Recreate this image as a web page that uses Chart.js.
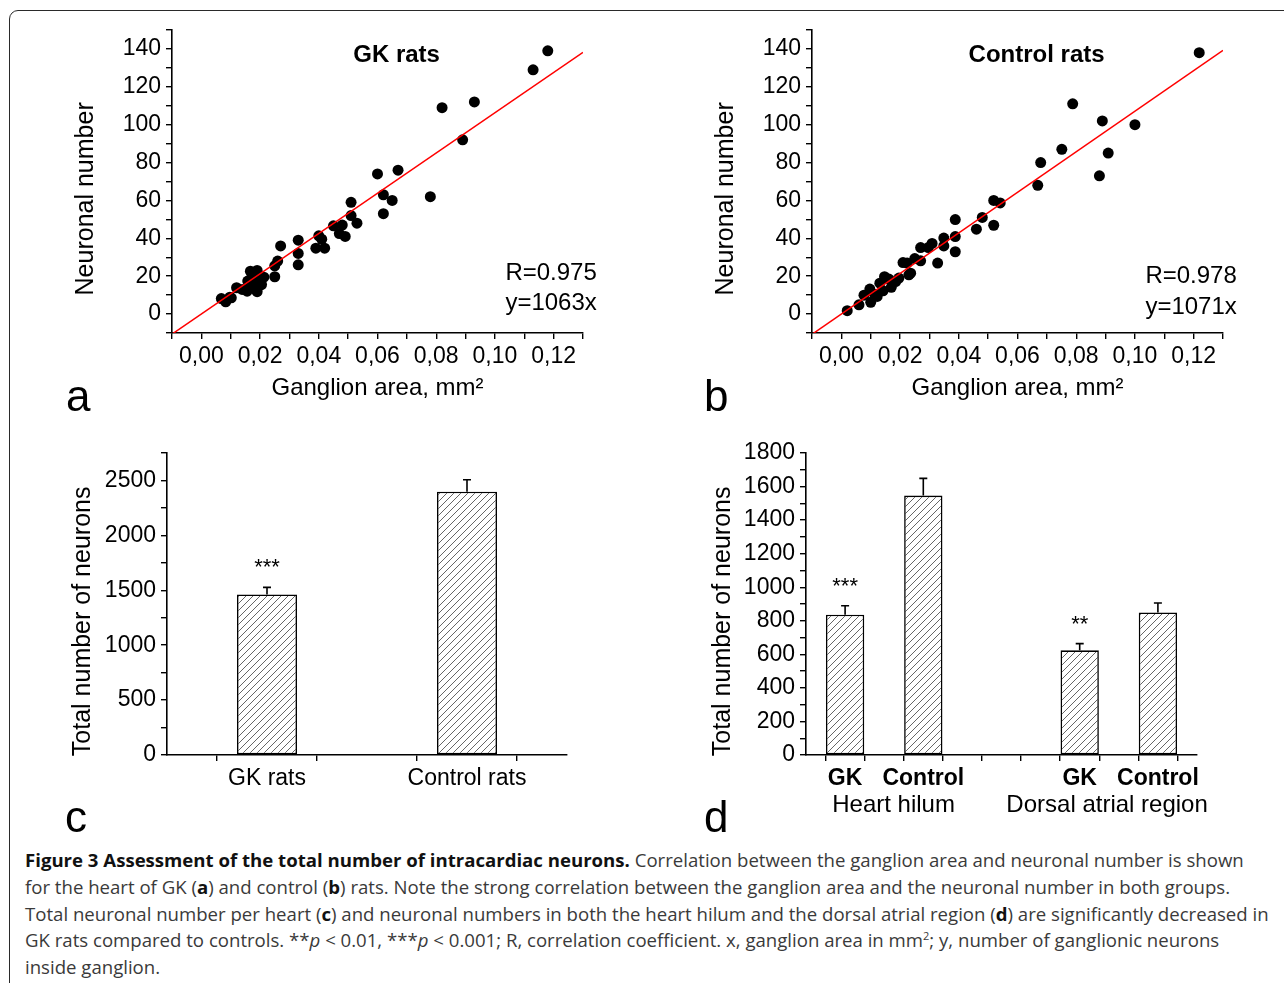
<!DOCTYPE html>
<html>
<head>
<meta charset="utf-8">
<script src="https://cdn.jsdelivr.net/npm/chart.js@4.4.0/dist/chart.umd.min.js"></script>
<style>
body { margin: 0; background: #fff; width: 1284px; height: 983px; overflow: hidden; position: relative; font-family: "Liberation Sans", Arial, sans-serif; }
#frame { position: absolute; left: 9px; top: 10px; width: 1320px; height: 1020px; border: 1.6px solid #2a2a2a; border-radius: 9px; }
canvas { position: absolute; }
.lbl { position: absolute; font-size: 44px; line-height: 1; color: #000; }
#cap { position: absolute; left: 25px; top: 847px; font-family: "Open Sans", sans-serif; font-size: 18.6px; line-height: 26.8px; color: #3a3a3a; white-space: nowrap; }
#cap b { color: #111; font-weight: 700; }
#cap sup { font-size: 11px; line-height: 0; }
</style>
</head>
<body>
<div id="frame"></div>
<canvas id="ca" width="600" height="400" style="left:20px;top:20px"></canvas>
<canvas id="cb" width="600" height="400" style="left:660px;top:20px"></canvas>
<canvas id="cc" width="600" height="410" style="left:20px;top:430px"></canvas>
<canvas id="cd" width="600" height="410" style="left:660px;top:430px"></canvas>
<div class="lbl" style="left:66px;top:374px">a</div>
<div class="lbl" style="left:704px;top:374px">b</div>
<div class="lbl" style="left:65px;top:795px">c</div>
<div class="lbl" style="left:704px;top:795px">d</div>
<div id="cap">
<div><b>Figure 3 Assessment of the total number of intracardiac neurons.</b> Correlation between the ganglion area and neuronal number is shown</div>
<div>for the heart of GK (<b>a</b>) and control (<b>b</b>) rats. Note the strong correlation between the ganglion area and the neuronal number in both groups.</div>
<div>Total neuronal number per heart (<b>c</b>) and neuronal numbers in both the heart hilum and the dorsal atrial region (<b>d</b>) are significantly decreased in</div>
<div>GK rats compared to controls. **<i>p</i> &lt; 0.01, ***<i>p</i> &lt; 0.001; R, correlation coefficient. x, ganglion area in mm<sup>2</sup>; y, number of ganglionic neurons</div>
<div>inside ganglion.</div>
</div>
<script>
// Panel a: GK rats, ganglion area (mm2) vs neuronal number
const gkX = [0.118, 0.113, 0.093, 0.082, 0.089, 0.067, 0.060, 0.078, 0.062, 0.065, 0.062, 0.051, 0.051, 0.053, 0.048, 0.045,
  0.047, 0.049, 0.040, 0.041, 0.039, 0.042, 0.033, 0.033, 0.033, 0.027, 0.026, 0.025, 0.025, 0.0167, 0.019, 0.0158,
  0.0179, 0.0201, 0.0213, 0.0196, 0.0173, 0.0156, 0.019, 0.012, 0.0139, 0.0097, 0.0068, 0.0083, 0.0102, 0.0205, 0.0184];
const gkY = [139, 129, 112, 109, 92, 76, 74, 62, 63, 60, 53, 59, 52, 48, 47, 46.6,
  42.5, 41, 41.3, 39.5, 34.8, 34.8, 39, 32, 26, 36, 28, 25.5, 19.7, 22.6, 23, 17.4,
  19.1, 20, 19.5, 14.7, 13.9, 12.1, 11.8, 13.9, 13, 8.9, 8.2, 6.5, 8.6, 15.6, 16.5];
const gkFit = [[-0.01, -10.6], [0.13, 138.2]];   // y = 1063x

// Panel b: control rats
const ctX = [0.1219, 0.0788, 0.0889, 0.100, 0.0751, 0.0909, 0.0679, 0.0879, 0.0669, 0.0519, 0.0541, 0.048, 0.046, 0.0519, 0.0388,
  0.0388, 0.0388, 0.0349, 0.0349, 0.0309, 0.0296, 0.027, 0.0328, 0.027, 0.025, 0.021, 0.0224, 0.0236, 0.023, 0.0196,
  0.0185, 0.017, 0.0147, 0.0162, 0.0131, 0.0142, 0.0122, 0.010, 0.0097, 0.0077, 0.006, 0.002, 0.0113];
const ctY = [138, 111, 102, 100, 87, 85, 80, 73, 68, 60, 58.7, 51, 44.8, 46.9, 49.9,
  40.9, 32.9, 40.1, 36, 37.3, 35.1, 35.1, 26.9, 28.1, 29.3, 27.2, 26.9, 21.6, 20.7, 19,
  17.2, 14.1, 19.7, 18.5, 16.3, 12.3, 9.3, 6.2, 13.2, 10, 4.9, 1.8, 10.5];
const ctFit = [[-0.01, -10.7], [0.13, 139.2]];   // y = 1071x

// Panel c: total neurons per heart
const totLabels = ['', 'GK rats', '', 'Control rats', ''];
const totMean = [null, 1462, null, 2397, null];
const totErr = [null, 64, null, 109, null];
const totSig = ['', '***', '', '', ''];

// Panel d: by region
const regLabels = ['', 'GK', '', 'Control', '', '', '', 'GK', '', 'Control', ''];
const regMean = [null, 836, null, 1546, null, null, null, 624, null, 850, null];
const regErr = [null, 54, null, 103, null, null, null, 40, null, 56, null];
const regSig = ['', '***', '', '', '', '', '', '**', '', '', ''];
const regGroups = [['Heart hilum', 2.24], ['Dorsal atrial region', 7.7]];

Chart.defaults.font.family = '"Liberation Sans", Arial, sans-serif';
Chart.defaults.color = '#000';
Chart.defaults.animation = false;

// the original axis titles sit a bit below the middle of the axis
const NB = '\u00a0';
const shiftDown = s => s + NB.repeat(5);

// text drawn at data coordinates
const textPlugin = {
  id: 'panelText',
  afterDatasetsDraw(chart, args, opts) {
    const ctx = chart.ctx;
    const sx = chart.scales.x, sy = chart.scales.y;
    ctx.save();
    (opts.items || []).forEach(t => {
      ctx.font = t.font;
      ctx.fillStyle = '#000';
      ctx.textAlign = t.align || 'center';
      ctx.textBaseline = 'middle';
      const px = t.px !== undefined ? t.px : sx.getPixelForValue(t.x);
      const py = t.py !== undefined ? t.py : sy.getPixelForValue(t.y);
      ctx.fillText(t.text, px, py);
    });
    ctx.restore();
  }
};

// one-sided error bars + significance stars
const errPlugin = {
  id: 'errBars',
  afterDatasetsDraw(chart, args, opts) {
    const ctx = chart.ctx;
    const sy = chart.scales.y;
    const meta = chart.getDatasetMeta(0);
    ctx.save();
    ctx.strokeStyle = '#000';
    ctx.lineWidth = 1.6;
    opts.err.forEach((e, i) => {
      if (e === null) return;
      const bx = meta.data[i].x;
      const y0 = sy.getPixelForValue(opts.mean[i]);
      const y1 = sy.getPixelForValue(opts.mean[i] + e);
      ctx.beginPath();
      ctx.moveTo(bx, y0); ctx.lineTo(bx, y1);
      ctx.moveTo(bx - 4, y1); ctx.lineTo(bx + 4, y1);
      ctx.stroke();
      if (opts.sig[i]) {
        ctx.font = '22px "Liberation Sans", Arial, sans-serif';
        ctx.fillStyle = '#000';
        ctx.textAlign = 'center';
        ctx.textBaseline = 'middle';
        ctx.fillText(opts.sig[i], bx, y1 - 19);
      }
    });
    ctx.restore();
  }
};

function hatch(ctx) {
  const c = document.createElement('canvas');
  c.width = 7; c.height = 7;
  const g = c.getContext('2d');
  g.fillStyle = '#fff';
  g.fillRect(0, 0, 7, 7);
  g.strokeStyle = '#555';
  g.lineWidth = 0.9;
  g.beginPath();
  g.moveTo(0, 7); g.lineTo(7, 0);
  g.moveTo(-1, 1); g.lineTo(1, -1);
  g.moveTo(6, 8); g.lineTo(8, 6);
  g.stroke();
  return ctx.createPattern(c, 'repeat');
}

// tiny lineHeight keeps the empty top tick label from padding the chart area
const tickFont = { size: 23, lineHeight: 0.05 };
const titleFont = { size: 25 };
const edge = { display: true, color: '#000', width: 1.6 };
const tickGrid = { drawOnChartArea: false, drawTicks: true, tickLength: 6, color: '#000', lineWidth: 1.4 };

function scatterChart(id, xs, ys, fit, title, rText, eqText, rY, eqY) {
  const pts = xs.map((x, i) => ({ x: x, y: ys[i] }));
  new Chart(document.getElementById(id), {
    type: 'scatter',
    data: {
      datasets: [
        { type: 'line', data: fit.map(p => ({ x: p[0], y: p[1] })), borderColor: '#ff0000', borderWidth: 1.5, pointRadius: 0, fill: false },
        { data: pts, backgroundColor: '#000', borderWidth: 0, pointRadius: 5.5, pointHoverRadius: 5.5 }
      ]
    },
    options: {
      responsive: false,
      events: [],
      layout: { autoPadding: false, padding: { top: 10, right: 37, left: 0, bottom: 0 } },
      plugins: {
        legend: { display: false },
        tooltip: { enabled: false },
        panelText: { items: [
          { text: title, x: 0.0665, y: 136.8, font: 'bold 24px "Liberation Sans", Arial, sans-serif' },
          { text: rText, x: 0.1347, y: rY, align: 'right', font: '24px "Liberation Sans", Arial, sans-serif' },
          { text: eqText, x: 0.1347, y: eqY, align: 'right', font: '24px "Liberation Sans", Arial, sans-serif' }
        ] }
      },
      scales: {
        x: {
          type: 'linear', min: -0.01, max: 0.13,
          border: edge, grid: tickGrid,
          afterFit: s => { s.height = 87; },
          ticks: {
            stepSize: 0.01, autoSkip: false, maxRotation: 0, padding: 17, font: tickFont,
            callback: v => { const k = Math.round(v * 100); return (k >= 0 && k <= 12 && k % 2 === 0) ? (k / 100).toFixed(2).replace('.', ',') : ''; }
          },
          title: { display: true, text: 'Ganglion area, mm²', font: { size: 24 }, padding: { top: 0, bottom: 17 } }
        },
        y: {
          min: -10, max: 150,
          border: edge, grid: tickGrid,
          afterFit: s => { s.width = 152; },
          ticks: {
            stepSize: 10, autoSkip: false, padding: 5, font: tickFont,
            callback: v => { const k = Math.round(v); return (k >= 0 && k <= 140 && k % 20 === 0) ? String(k) : ''; }
          },
          title: { display: true, text: shiftDown('Neuronal number'), font: titleFont, padding: { top: 51, bottom: 0 } }
        }
      }
    },
    plugins: [textPlugin]
  });
}

scatterChart('ca', gkX, gkY, gkFit, 'GK rats', 'R=0.975', 'y=1063x', 21.6, 5.8);
scatterChart('cb', ctX, ctY, ctFit, 'Control rats', 'R=0.978', 'y=1071x', 20, 3.7);

function barChart(id, labels, mean, err, sig, yMax, yStep, yLabelStep, barPct, xFont, yWidth, rightPad, groups) {
  const cv = document.getElementById(id);
  const pattern = hatch(cv.getContext('2d'));
  const items = (groups || []).map(g => ({ text: g[0], x: g[1], py: 375, font: '24px "Liberation Sans", Arial, sans-serif' }));
  new Chart(cv, {
    type: 'bar',
    data: {
      labels: labels,
      datasets: [{ data: mean, backgroundColor: pattern, borderColor: '#000', borderWidth: 1.6, borderSkipped: false, barPercentage: barPct, categoryPercentage: 1 }]
    },
    options: {
      responsive: false,
      events: [],
      layout: { autoPadding: false, padding: { top: 23, right: rightPad, left: 0, bottom: 0 } },
      plugins: {
        legend: { display: false },
        tooltip: { enabled: false },
        errBars: { mean: mean, err: err, sig: sig },
        panelText: { items: items }
      },
      scales: {
        x: {
          type: 'category', offset: false,
          border: edge, grid: tickGrid,
          afterFit: s => { s.height = 85; },
          ticks: { autoSkip: false, maxRotation: 0, padding: 4, font: xFont }
        },
        y: {
          min: 0, max: yMax,
          border: edge, grid: tickGrid,
          afterFit: s => { s.width = yWidth; },
          ticks: {
            stepSize: yStep, autoSkip: false, padding: 5, font: tickFont,
            callback: v => (Math.round(v) % yLabelStep === 0 ? String(Math.round(v)) : '')
          },
          title: { display: true, text: shiftDown('Total number of neurons'), font: titleFont, padding: { top: 48, bottom: 0 } }
        }
      }
    },
    plugins: [errPlugin, textPlugin]
  });
}

barChart('cc', totLabels, totMean, totErr, totSig, 2750, 250, 500, 0.6, { size: 23 }, 147, 53, null);
barChart('cd', regLabels, regMean, regErr, regSig, 1800, 100, 200, 0.98, { size: 23, weight: 'bold' }, 146, 63, regGroups);
</script>
</body>
</html>
